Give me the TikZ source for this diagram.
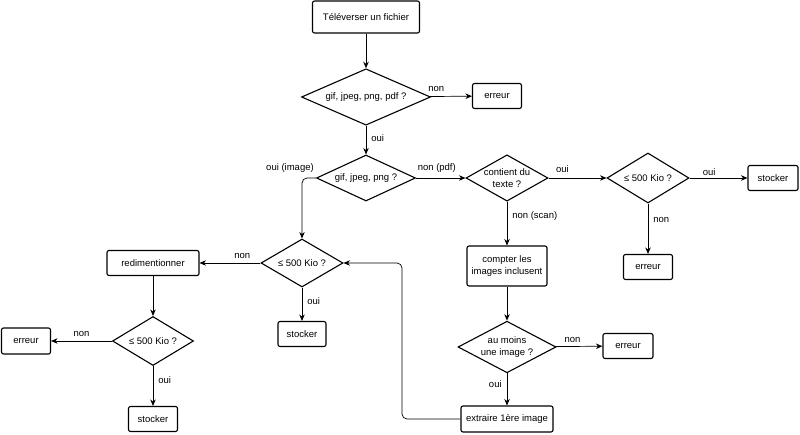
\documentclass[tikz,border=0pt]{standalone}
\usepackage{fontspec}
\setmainfont{Liberation Sans}
\usetikzlibrary{shapes.geometric, arrows.meta}

\tikzset{
  etape/.style={draw, line width=1.1pt, rounded corners=2pt, align=center, inner sep=1pt, font=\fontsize{9.5}{12}\selectfont},
  test/.style={diamond, draw, line width=1.1pt, aspect=1.7, inner sep=0pt, align=center, font=\fontsize{9.5}{12}\selectfont},
  fleche/.style={-{Stealth[length=6.5pt, width=5.5pt]}, line width=0.7pt},
  lbl/.style={font=\fontsize{9.5}{11}\selectfont, inner sep=1pt}
}

\begin{document}
\begin{tikzpicture}[x=1pt, y=-1pt]
\useasboundingbox (0,0) rectangle (800,435);

% --- Etapes et tests ---
\node[etape, minimum width=107, minimum height=32] (depart) at (366,17) {Téléverser un fichier};
\node[test, minimum width=129, minimum height=50] (format) at (366,97) {gif, jpeg, png, pdf ?};
\node[etape, minimum width=49, minimum height=25] (erreurA) at (497,96) {erreur};
\node[test, minimum width=99, minimum height=46] (image) at (366,178) {gif, jpeg, png ?};
\node[test, minimum width=82, minimum height=46] (texte) at (507,178) {contient du\\texte ?};
\node[test, minimum width=82, minimum height=50] (tailleB) at (648,178) {≤ 500 Kio ?};
\node[etape, minimum width=50, minimum height=25] (stockerB) at (773,178) {stocker};
\node[etape, minimum width=49, minimum height=25] (erreurB) at (648,267) {erreur};
\node[etape, minimum width=80, minimum height=40] (compter) at (507,266) {compter les\\images inclusent};
\node[test, minimum width=98, minimum height=51] (aumoins) at (507,347) {au moins\\une image ?};
\node[etape, minimum width=50, minimum height=25] (erreurC) at (628,346) {erreur};
\node[etape, minimum width=92, minimum height=26] (extraire) at (507,419) {extraire 1ère image};
\node[test, minimum width=82, minimum height=48] (tailleA) at (302,263) {≤ 500 Kio ?};
\node[etape, minimum width=48, minimum height=25] (stockerA) at (302,334) {stocker};
\node[etape, minimum width=92, minimum height=25] (redim) at (153,263) {redimentionner};
\node[test, minimum width=81, minimum height=49] (tailleC) at (153,341) {≤ 500 Kio ?};
\node[etape, minimum width=49, minimum height=26] (erreurD) at (26,341) {erreur};
\node[etape, minimum width=49, minimum height=25] (stockerC) at (153,419) {stocker};

% --- Connecteurs ---
\draw[fleche] (depart) -- (format);
\draw[fleche] (format) -- node[lbl, pos=0.15, above=4pt] {non} (erreurA);
\draw[fleche] (format) -- node[lbl, pos=0.42, right=4pt] {oui} (image);
\draw[fleche, rounded corners=5pt] (image.west) -| node[lbl, pos=0.5, above=4pt, xshift=-12pt] {oui (image)} (tailleA.north);
\draw[fleche] (image) -- node[lbl, pos=0.42, above=4pt] {non (pdf)} (texte);
\draw[fleche] (texte) -- node[lbl, pos=0.24, above=4pt] {oui} (tailleB);
\draw[fleche] (tailleB) -- node[lbl, pos=0.34, above=1pt] {oui} (stockerB);
\draw[fleche] (tailleB) -- node[lbl, pos=0.33, right=4pt] {non} (erreurB);
\draw[fleche] (texte) -- node[lbl, pos=0.33, right=4pt] {non (scan)} (compter);
\draw[fleche] (compter) -- (aumoins);
\draw[fleche] (aumoins) -- node[lbl, pos=0.36, above=3pt] {non} (erreurC);
\draw[fleche] (aumoins) -- node[lbl, pos=0.35, left=4pt] {oui} (extraire);
\draw[fleche, rounded corners=5pt] (extraire.west) -- (402,419) -- (402,263) -- (tailleA.east);
\draw[fleche] (tailleA) -- node[lbl, pos=0.3, above=3pt] {non} (redim);
\draw[fleche] (tailleA) -- node[lbl, pos=0.41, right=4pt] {oui} (stockerA);
\draw[fleche] (redim) -- (tailleC);
\draw[fleche] (tailleC) -- node[lbl, pos=0.5, above=3pt] {non} (erreurD);
\draw[fleche] (tailleC) -- node[lbl, pos=0.34, right=4pt] {oui} (stockerC);
\end{tikzpicture}
\end{document}
